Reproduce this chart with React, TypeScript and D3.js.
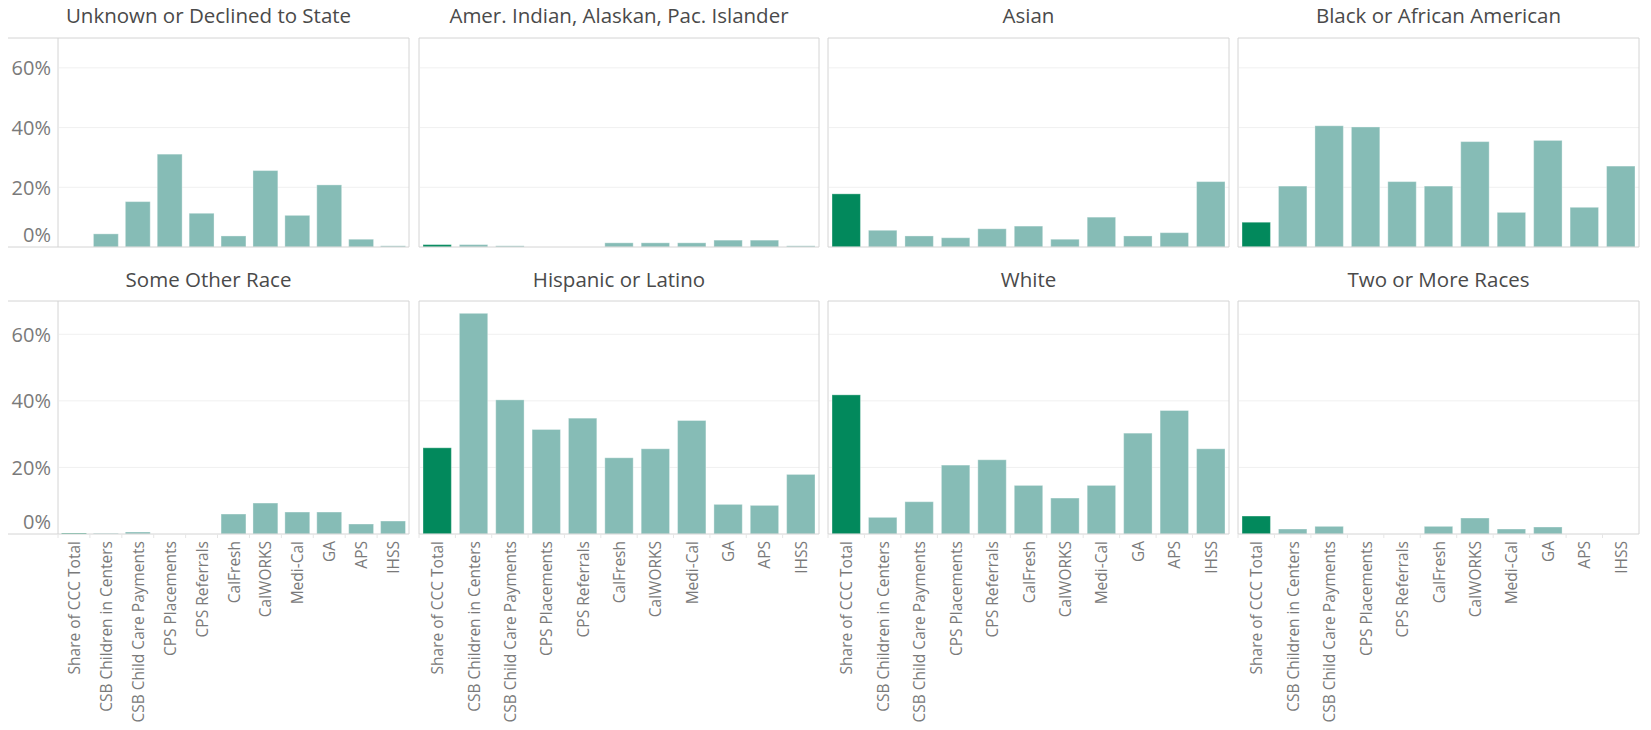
import React from "react";
import * as d3 from "d3";

const categories = [
  "Share of CCC Total",
  "CSB Children in Centers",
  "CSB Child Care Payments",
  "CPS Placements",
  "CPS Referrals",
  "CalFresh",
  "CalWORKS",
  "Medi-Cal",
  "GA",
  "APS",
  "IHSS",
];

const groups = [
  "Unknown or Declined to State",
  "Amer. Indian, Alaskan, Pac. Islander",
  "Asian",
  "Black or African American",
  "Some Other Race",
  "Hispanic or Latino",
  "White",
  "Two or More Races",
];

const unknownVals = [0, 0.044, 0.152, 0.311, 0.113, 0.037, 0.256, 0.106, 0.208, 0.026, 0.004];
const amerIndianVals = [0.008, 0.008, 0.004, 0, 0, 0.014, 0.014, 0.014, 0.023, 0.023, 0.004];
const asianVals = [0.178, 0.056, 0.037, 0.031, 0.061, 0.07, 0.026, 0.1, 0.037, 0.048, 0.219];
const blackVals = [0.083, 0.204, 0.406, 0.402, 0.219, 0.204, 0.353, 0.116, 0.357, 0.133, 0.271];
const someOtherVals = [0.003, 0.002, 0.006, 0, 0, 0.06, 0.093, 0.066, 0.066, 0.03, 0.039];
const hispanicVals = [0.259, 0.663, 0.403, 0.314, 0.348, 0.229, 0.256, 0.341, 0.089, 0.086, 0.179];
const whiteVals = [0.418, 0.05, 0.097, 0.207, 0.223, 0.146, 0.108, 0.146, 0.303, 0.371, 0.256];
const twoOrMoreVals = [0.054, 0.015, 0.023, 0, 0, 0.023, 0.048, 0.015, 0.021, 0, 0];

const seriesValues = [
  unknownVals,
  amerIndianVals,
  asianVals,
  blackVals,
  someOtherVals,
  hispanicVals,
  whiteVals,
  twoOrMoreVals,
];

const yTicks = [0, 0.2, 0.4, 0.6];

const W = 1651;
const H = 730;
const FONT = "'Open Sans', 'DejaVu Sans', sans-serif";
const panelLeft = [8, 419, 828, 1238];
const panelRight = [409, 819, 1229, 1639];
const axisX = 58;
const rows = [
  { top: 38, bottom: 247, titleY: 15 },
  { top: 301, bottom: 534, titleY: 279 },
];
const BORDER = "#d4d4d4";
const GRID = "#f0f0f0";
const TEAL = "#86bcb6";
const GREEN = "#02895c";
const TICK_TXT = "#7a7a7a";

function Panel({ idx }: { idx: number }) {
  const row = idx < 4 ? 0 : 1;
  const col = idx % 4;
  const { top, bottom, titleY } = rows[row];
  const frameL = panelLeft[col];
  const frameR = panelRight[col];
  const plotL = col === 0 ? axisX : frameL;
  const x = d3
    .scaleBand<string>()
    .domain(categories)
    .range([plotL, frameR])
    .paddingInner(0.22)
    .paddingOuter(0.11);
  const y = d3.scaleLinear().domain([0, 0.7]).range([bottom, top]);
  const vals = seriesValues[idx];
  const fmt = d3.format(".0%");
  return (
    <g>
      <text
        x={(frameL + frameR) / 2}
        y={titleY}
        textAnchor="middle"
        dominantBaseline="central"
        fontFamily={FONT}
        fontSize={20.5}
        fill="#4a4a4a"
      >
        {groups[idx]}
      </text>
      {yTicks
        .filter((t) => t > 0)
        .map((t) => (
          <line key={t} x1={plotL + 1} x2={frameR} y1={y(t)} y2={y(t)} stroke={GRID} strokeWidth={1} />
        ))}
      {categories.map((c, i) => {
        const v = vals[i];
        if (!v) return null;
        return (
          <rect
            key={c}
            x={x(c)}
            y={y(v)}
            width={x.bandwidth()}
            height={y(0) - y(v)}
            fill={i === 0 ? GREEN : TEAL}
            stroke="#ffffff"
            strokeOpacity={0.35}
            strokeWidth={1}
          />
        );
      })}
      <line x1={frameL} x2={frameR} y1={top} y2={top} stroke={BORDER} />
      <line x1={frameL} x2={frameR} y1={bottom} y2={bottom} stroke={BORDER} />
      <line x1={frameR} x2={frameR} y1={top} y2={bottom} stroke={BORDER} />
      <line x1={plotL} x2={plotL} y1={top} y2={bottom} stroke={BORDER} />
      {col === 0 &&
        yTicks.map((t) => (
          <text
            key={t}
            x={51}
            y={t === 0 ? bottom - 13 : y(t)}
            textAnchor="end"
            dominantBaseline="central"
            fontFamily={FONT}
            fontSize={20}
            fill={TICK_TXT}
          >
            {fmt(t)}
          </text>
        ))}
      {row === 1 && (
        <g>
          {categories.map((c) => (
            <line
              key={"s" + c}
              x1={(x(c) as number) - (x.step() - x.bandwidth()) / 2}
              x2={(x(c) as number) - (x.step() - x.bandwidth()) / 2}
              y1={bottom}
              y2={bottom + 4}
              stroke="#e6e6e6"
            />
          ))}
          {categories.map((c) => {
            const cx = (x(c) as number) + x.bandwidth() / 2;
            const ty = bottom + 7;
            return (
              <text
                key={"l" + c}
                transform={`translate(${cx},${ty}) rotate(-90)`}
                textAnchor="end"
                dominantBaseline="central"
                fontFamily={FONT}
                fontSize={15.5}
                fill={TICK_TXT}
              >
                {c}
              </text>
            );
          })}
        </g>
      )}
    </g>
  );
}

export default function App() {
  return (
    <svg
      width={W}
      height={H}
      viewBox={`0 0 ${W} ${H}`}
      style={{ position: "absolute", left: 0, top: 0, display: "block", background: "#fff" }}
    >
      <rect x={0} y={0} width={W} height={H} fill="#fff" />
      {groups.map((g, i) => (
        <Panel key={g} idx={i} />
      ))}
    </svg>
  );
}
